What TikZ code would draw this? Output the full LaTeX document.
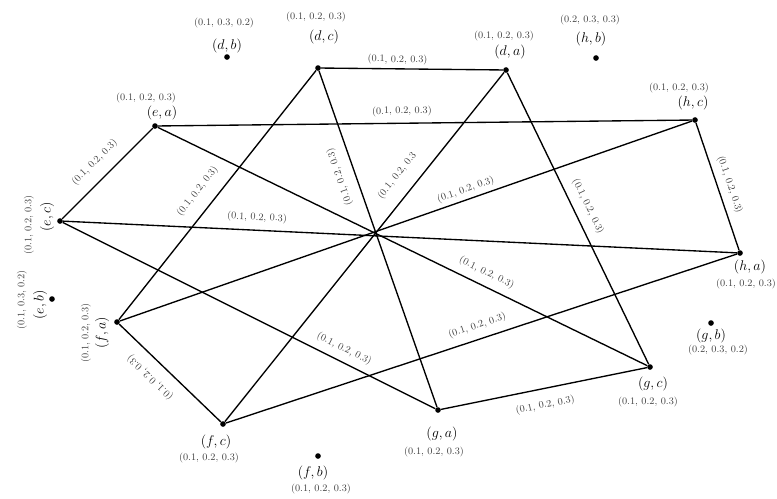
\documentclass[tikz,border=0pt]{standalone}
\usepackage{amsmath}
\begin{document}
\begin{tikzpicture}[
    x=0.03cm, y=-0.03cm,
    vertex/.style={
        circle,
        fill,
        inner sep=0pt,
        minimum size=4.8pt
    },
    vname/.style={
        inner sep=0pt,
        font=\fontsize{12}{14}\selectfont
    },
    vval/.style={
        inner sep=0pt,
        text=black!75,
        font=\fontsize{8.5}{10}\selectfont
    },
    elbl/.style={
        inner sep=0pt,
        text=black!75,
        font=\fontsize{8.5}{10}\selectfont
    },
    edge/.style={
        line width=1.15pt
    }
]

\useasboundingbox (0,0) rectangle (777,498);

% vertices
\node[vertex] (dc) at (318,68) {};
\node[vertex] (da) at (506,70) {};
\node[vertex] (db) at (227,57) {};
\node[vertex] (hb) at (596,58) {};
\node[vertex] (hc) at (695,120) {};
\node[vertex] (ea) at (155,126) {};
\node[vertex] (ec) at (60,221) {};
\node[vertex] (eb) at (52,299) {};
\node[vertex] (fa) at (117,322) {};
\node[vertex] (fc) at (223,424) {};
\node[vertex] (fb) at (318,456) {};
\node[vertex] (ga) at (438,410) {};
\node[vertex] (gc) at (650,367) {};
\node[vertex] (ha) at (740,253) {};
\node[vertex] (gb) at (711,323) {};

% vertex names
\node[vname] (dcn) at (324,37) {$(d,c)$};
\node[vname] (dan) at (510,52) {$(d,a)$};
\node[vname] (dbn) at (227,46) {$(d,b)$};
\node[vname] (hbn) at (591,39) {$(h,b)$};
\node[vname] (hcn) at (693,103) {$(h,c)$};
\node[vname] (ean) at (162,113) {$(e,a)$};
\node[vname, rotate=90] (ecn) at (47,217) {$(e,c)$};
\node[vname, rotate=90] (ebn) at (40,305) {$(e,b)$};
\node[vname, rotate=90] (fan) at (102,333) {$(f,a)$};
\node[vname] (fcn) at (216,442) {$(f,c)$};
\node[vname] (fbn) at (313,473) {$(f,b)$};
\node[vname] (gan) at (442,434) {$(g,a)$};
\node[vname] (gcn) at (653,384) {$(g,c)$};
\node[vname] (han) at (750,267) {$(h,a)$};
\node[vname] (gbn) at (711,336) {$(g,b)$};

% vertex values
\node[vval] (dcv) at (316,17) {(0.1, 0.2, 0.3)};
\node[vval] (dav) at (504,36) {(0.1, 0.2, 0.3)};
\node[vval] (dbv) at (224,23) {(0.1, 0.3, 0.2)};
\node[vval] (hbv) at (590,20) {(0.2, 0.3, 0.3)};
\node[vval] (hcv) at (679,88) {(0.1, 0.2, 0.3)};
\node[vval] (eav) at (146,98) {(0.1, 0.2, 0.3)};
\node[vval, rotate=90] (ecv) at (29,225) {(0.1, 0.2, 0.3)};
\node[vval, rotate=90] (ebv) at (22,300) {(0.1, 0.3, 0.2)};
\node[vval, rotate=90] (fav) at (86,333) {(0.1, 0.2, 0.3)};
\node[vval] (fcv) at (209,458) {(0.1, 0.2, 0.3)};
\node[vval] (fbv) at (321,489) {(0.1, 0.2, 0.3)};
\node[vval] (gav) at (434,452) {(0.1, 0.2, 0.3)};
\node[vval] (gcv) at (648,402) {(0.1, 0.2, 0.3)};
\node[vval] (hav) at (746,284) {(0.1, 0.2, 0.3)};
\node[vval] (gbv) at (718,350) {(0.2, 0.3, 0.2)};

% edges
\draw[edge] (dc) -- node[elbl, pos=0.42, sloped, above=3pt] {(0.1, 0.2, 0.3)} (da);
\draw[edge] (ea) -- node[elbl, pos=0.457, sloped, above=5.4pt] {(0.1, 0.2, 0.3)} (hc);
\draw[edge] (ea) -- node[elbl, pos=0.51, sloped, above=9.6pt] {(0.1, 0.2, 0.3)} (ec);
\draw[edge] (ec) -- node[elbl, pos=0.287, sloped, above=6pt] {(0.1, 0.2, 0.3)} (ha);
\draw[edge] (dc) -- node[elbl, pos=0.53, sloped, above=10.5pt] {(0.1, 0.2, 0.3)} (fa);
\draw[edge] (dc) -- node[elbl, pos=0.30, rotate=109, above=8.4pt] {(0.1, 0.2, 0.3)} (ga);
\draw[edge] (da) -- node[elbl, pos=0.33, sloped, above=11.3pt] {(0.1, 0.2, 0.3} (fc);
\draw[edge] (da) -- node[elbl, pos=0.48, sloped, above=7.3pt] {(0.1, 0.2, 0.3)} (gc);
\draw[edge] (ea) -- node[elbl, pos=0.66, sloped, above=6.5pt] {(0.1, 0.2, 0.3)} (gc);
\draw[edge] (hc) -- node[elbl, pos=0.39, sloped, above=3.5pt] {(0.1, 0.2, 0.3)} (fa);
\draw[edge] (ec) -- node[elbl, pos=0.74, sloped, above=6pt] {(0.1, 0.2, 0.3)} (ga);
\draw[edge] (fa) -- node[elbl, pos=0.42, rotate=136, above=9.5pt] {(0.1, 0.2, 0.3)} (fc);
\draw[edge] (fc) -- node[elbl, pos=0.5, sloped, above=6.7pt] {(0.1, 0.2, 0.3)} (ha);
\draw[edge] (ga) -- node[elbl, pos=0.49, sloped, below=9.3pt] {(0.1, 0.2, 0.3)} (gc);
\draw[edge] (hc) -- node[elbl, pos=0.516, sloped, above=5.7pt] {(0.1, 0.2, 0.3)} (ha);

\end{tikzpicture}
\end{document}
